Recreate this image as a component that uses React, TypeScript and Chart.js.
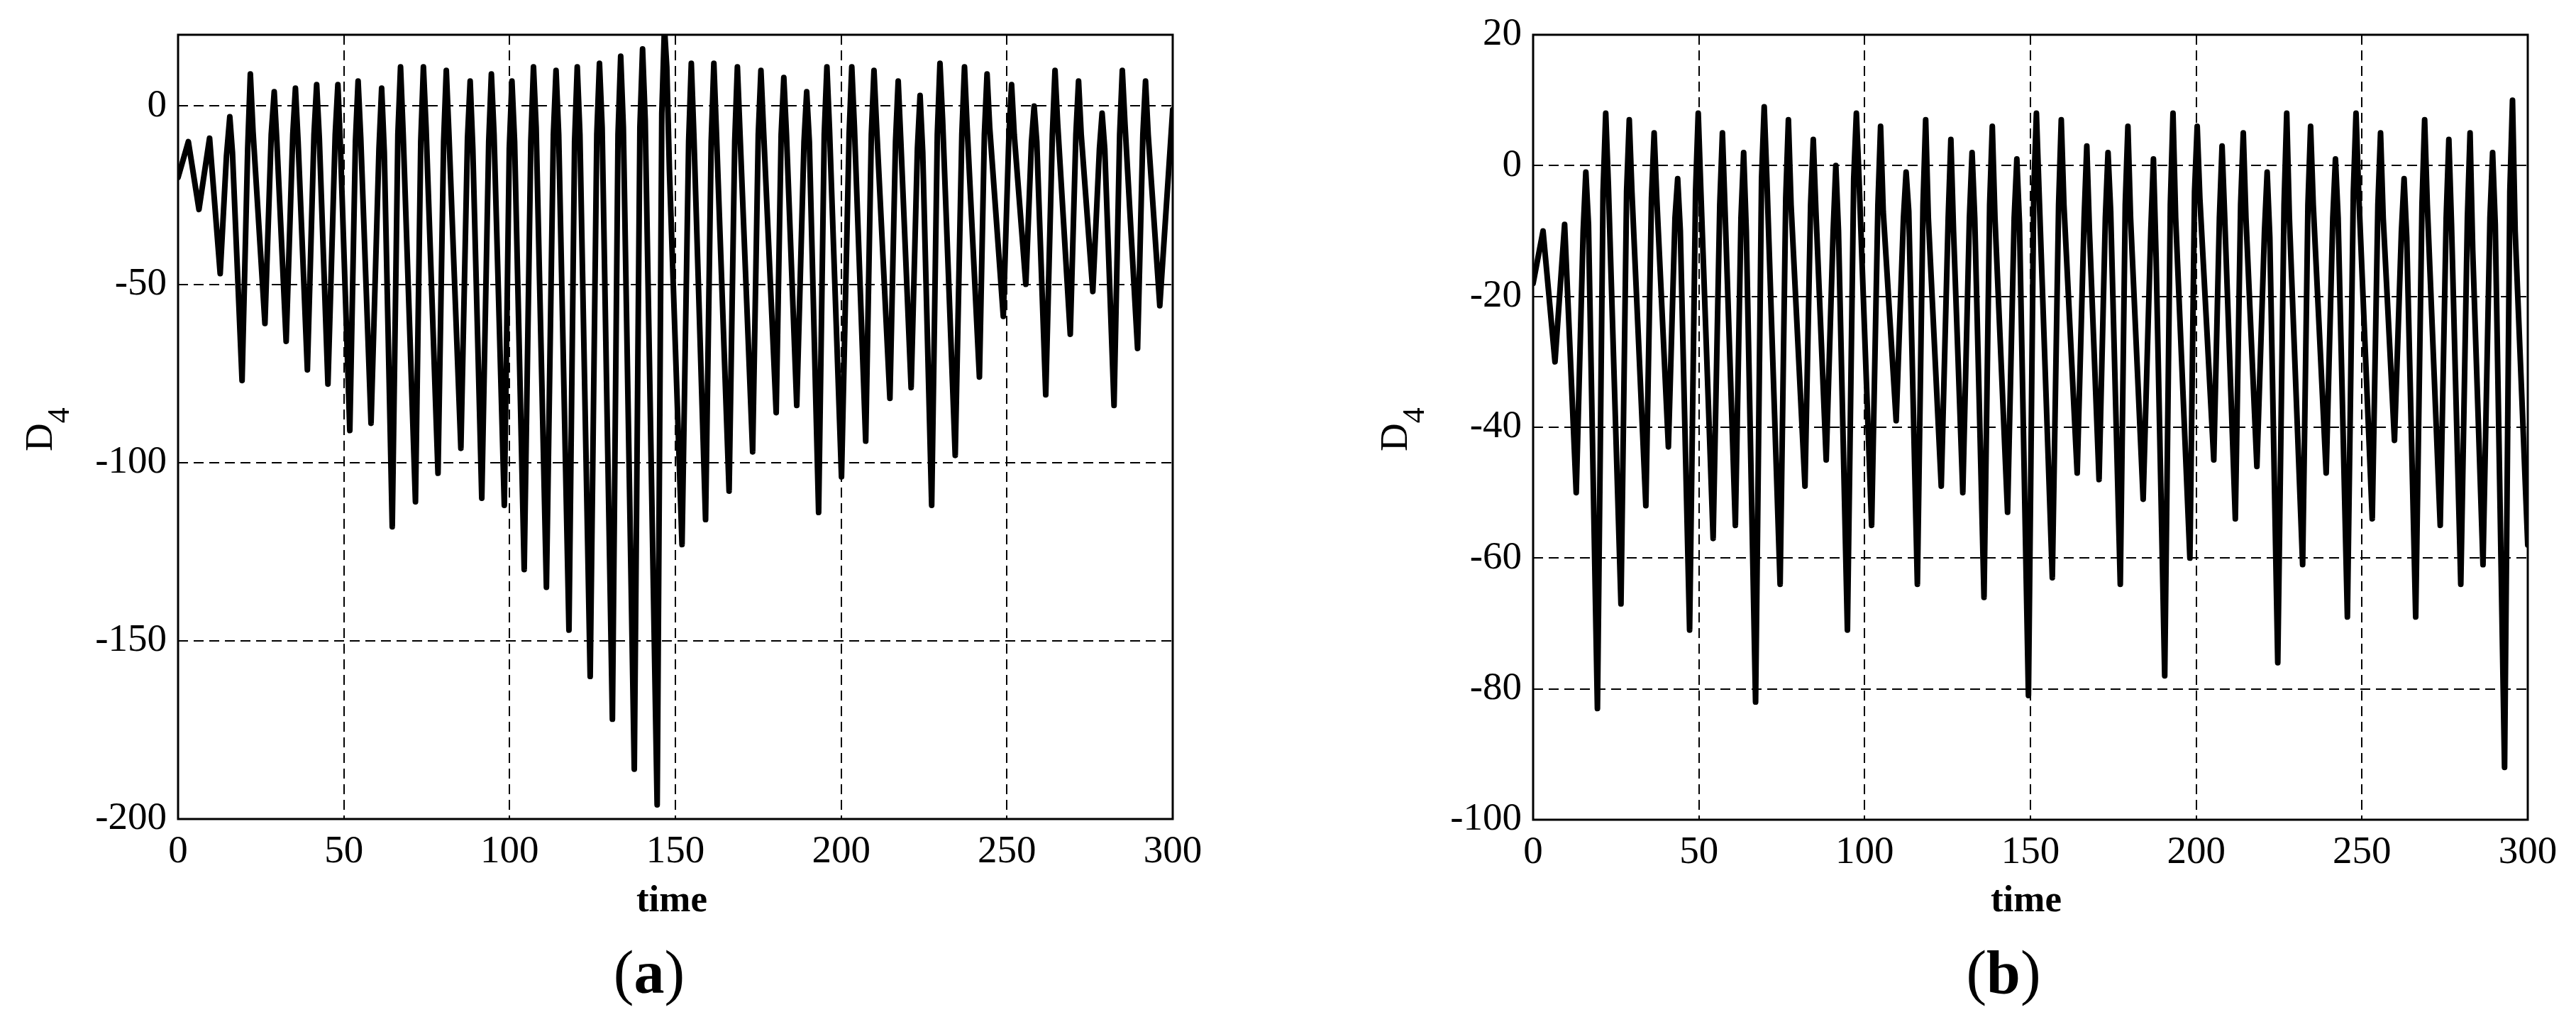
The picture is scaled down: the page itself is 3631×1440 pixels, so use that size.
import React, { useEffect, useRef } from "react";
import Chart from "chart.js/auto";

// ---------- data ----------
const timeTicks = [0, 50, 100, 150, 200, 250, 300];
const yTicksA = [-200, -150, -100, -50, 0];
const yTicksB = [-100, -80, -60, -40, -20, 0, 20];

// panel (a): vertices of the D4 trace; per cycle: trough, knee before peak, peak, shoulder after peak
const timeA = [
  0, 3.1, 6.3, 9.5, 12.7, 14.6, 15.6, 16.4,
  19.3, 21.0, 21.8, 22.6,
  26.2, 28.1, 29.0, 29.8,
  32.6, 34.6, 35.4, 36.2,
  39.0, 41.0, 41.8, 42.6,
  45.2, 47.4, 48.2, 49.0,
  51.8, 53.5, 54.3, 55.1,
  58.2, 60.6, 61.4, 62.2,
  64.6, 66.3, 67.1, 67.9,
  71.6, 73.2, 74.0, 74.8,
  78.4, 80.1, 80.9, 81.7,
  85.3, 87.3, 88.1, 88.9,
  91.6, 93.7, 94.5, 95.3,
  98.4, 99.9, 100.7, 101.5,
  104.4, 106.4, 107.2, 108.0,
  111.1, 113.2, 114.0, 114.8,
  117.9, 119.6, 120.4, 121.2,
  124.3, 126.3, 127.1, 127.9,
  131.0, 132.7, 133.5, 134.3,
  137.6, 139.3, 140.1, 140.9,
  144.5, 145.9, 146.7, 147.4, 148.2,
  152.0, 154.0, 154.8, 155.6,
  159.1, 160.8, 161.6, 162.4,
  166.2, 167.9, 168.7, 169.5,
  173.3, 175.0, 175.8, 176.6,
  180.4, 181.9, 182.7, 183.5,
  186.6, 188.8, 189.6, 190.4,
  193.2, 194.9, 195.7, 196.5,
  200.1, 202.4, 203.2, 204.0,
  207.4, 209.1, 209.9, 210.7,
  214.7, 216.4, 217.2, 218.0,
  221.1, 223.0, 223.8, 224.6,
  227.3, 229.0, 229.8, 230.6,
  234.4, 236.4, 237.2, 238.0,
  241.7, 243.2, 244.0, 244.8,
  248.9, 250.6, 251.4, 252.2,
  255.7, 257.4, 258.2, 259.0,
  261.7, 263.7, 264.5, 265.3,
  269.1, 270.8, 271.6, 272.4,
  275.9, 277.9, 278.7, 279.5,
  282.3, 284.0, 284.8, 285.6,
  289.4, 291.0, 291.8, 292.6,
  296.1, 300,
];
const valueA = [
  -20, -10, -29, -9, -47, -14, -3, -13,
  -77, -12, 9, -7,
  -61, -8, 4, -10,
  -66, -8, 5, -10,
  -74, -8, 6, -9,
  -78, -8, 6, -12,
  -91, -10, 7, -9,
  -89, -12, 5, -13,
  -118, -8, 11, -8,
  -111, -10, 11, -6,
  -103, -10, 10, -8,
  -96, -9, 7, -12,
  -110, -10, 9, -8,
  -112, -12, 7, -10,
  -130, -10, 11, -6,
  -135, -8, 10, -8,
  -147, -10, 11, -8,
  -160, -8, 12, -6,
  -172, -8, 14, -6,
  -186, -6, 16, -4,
  -196, -2, 22, 11, -18,
  -123, -10, 12, -9,
  -116, -10, 12, -8,
  -108, -10, 11, -8,
  -97, -8, 10, -7,
  -86, -8, 8, -8,
  -84, -10, 4, -10,
  -114, -8, 11, -7,
  -104, -8, 11, -6,
  -94, -8, 10, -6,
  -82, -10, 7, -10,
  -79, -12, 3, -13,
  -112, -8, 12, -4,
  -98, -8, 11, -6,
  -76, -8, 9, -6,
  -59, -8, 6, -8,
  -50, -10, 0, -10,
  -81, -8, 10, -5,
  -64, -8, 7, -8,
  -52, -12, -2, -12,
  -84, -8, 10, -5,
  -68, -8, 7, -8,
  -56, -1,
];

// panel (b)
const timeB = [
  0, 3.0, 6.6, 9.5,
  13.0, 15.1, 15.9, 16.7,
  19.4, 21.1, 21.9, 22.7,
  26.5, 28.2, 29.0, 29.8,
  34.0, 35.7, 36.5, 37.3,
  40.8, 42.8, 43.6, 44.4,
  47.2, 49.0, 49.8, 50.6,
  54.3, 56.3, 57.1, 57.9,
  61.0, 62.7, 63.5, 64.3,
  67.1, 68.9, 69.7, 70.5,
  74.5, 76.2, 77.0, 77.8,
  82.0, 83.7, 84.5, 85.3,
  88.4, 90.5, 91.3, 92.1,
  94.8, 96.7, 97.5, 98.3,
  102.1, 104.0, 104.8, 105.6,
  109.5, 111.7, 112.5, 113.3,
  115.9, 117.6, 118.4, 119.2,
  123.1, 125.2, 126.0, 126.8,
  129.6, 131.6, 132.4, 133.2,
  136.0, 137.7, 138.5, 139.3,
  143.1, 145.1, 145.9, 146.7,
  149.4, 151.0, 151.8, 152.6,
  156.6, 158.5, 159.3, 160.1,
  164.1, 166.2, 167.0, 167.8,
  170.7, 172.6, 173.4, 174.2,
  177.1, 178.6, 179.4, 180.2,
  184.0, 186.3, 187.1, 187.9,
  190.5, 192.2, 193.0, 193.8,
  198.1, 199.5, 200.3, 201.1,
  205.3, 207.0, 207.8, 208.6,
  211.8, 213.4, 214.2, 215.0,
  218.3, 220.6, 221.4, 222.2,
  224.6, 226.5, 227.3, 228.1,
  232.1, 233.7, 234.5, 235.3,
  239.2, 241.2, 242.0, 242.8,
  245.6, 247.4, 248.2, 249.0,
  253.1, 254.8, 255.6, 256.4,
  259.8, 261.9, 262.7, 263.5,
  266.2, 268.1, 268.9, 269.7,
  273.6, 275.4, 276.2, 277.0,
  279.8, 281.8, 282.6, 283.4,
  286.5, 288.6, 289.4, 290.2,
  293.0, 294.6, 295.4, 296.2,
  300,
];
const valueB = [
  -18, -10, -30, -9,
  -50, -10, -1, -9,
  -83, -4, 8, -3,
  -67, -4, 7, -4,
  -52, -5, 5, -5,
  -43, -8, -2, -10,
  -71, -4, 8, -4,
  -57, -6, 5, -7,
  -55, -8, 2, -10,
  -82, -2, 9, -2,
  -64, -5, 7, -6,
  -49, -6, 4, -7,
  -45, -10, 0, -10,
  -71, -2, 8, -2,
  -55, -6, 6, -7,
  -39, -8, -1, -7,
  -64, -6, 7, -8,
  -49, -8, 4, -10,
  -50, -8, 2, -8,
  -66, -6, 6, -8,
  -53, -8, 1, -9,
  -81, -4, 8, -4,
  -63, -6, 7, -6,
  -47, -8, 3, -10,
  -48, -8, 2, -7,
  -64, -6, 6, -8,
  -51, -10, 1, -14,
  -78, -6, 8, -8,
  -60, -4, 6, -5,
  -45, -8, 3, -8,
  -54, -6, 5, -8,
  -46, -10, -1, -11,
  -76, -6, 8, -8,
  -61, -6, 6, -6,
  -47, -8, 1, -8,
  -69, -4, 8, -4,
  -54, -6, 5, -8,
  -42, -10, -2, -11,
  -69, -6, 7, -6,
  -55, -8, 4, -9,
  -64, -8, 5, -13,
  -61, -8, 2, -9,
  -92, -4, 10, -10,
  -58,
];

// ---------- styling ----------
const SERIF = '"Liberation Serif", "Times New Roman", serif';
const PAGE_H = 1440;

type PanelProps = {
  left: number;
  width: number;
  plotLeft: number;
  plotRight: number;
  plotTop: number;
  plotBottom: number;
  times: number[];
  values: number[];
  yMin: number;
  yMax: number;
  yTicks: number[];
};

function Panel(p: PanelProps) {
  const ref = useRef<HTMLCanvasElement | null>(null);
  useEffect(() => {
    const frame = {
      id: "frame",
      afterDatasetsDraw(chart: any) {
        const { ctx, chartArea: a } = chart;
        ctx.save();
        ctx.strokeStyle = "#000";
        ctx.lineWidth = 3;
        ctx.setLineDash([]);
        ctx.strokeRect(a.left, a.top, a.right - a.left, a.bottom - a.top);
        ctx.restore();
      },
    };
    const tickFont = { family: SERIF, size: 55 };
    const n = Math.min(p.times.length, p.values.length);
    const pts = [];
    for (let i = 0; i < n; i++) pts.push({ x: p.times[i], y: p.values[i] });
    const chart = new Chart(ref.current as HTMLCanvasElement, {
      type: "line",
      data: {
        datasets: [
          {
            data: pts,
            borderColor: "#000",
            borderWidth: 8,
            pointRadius: 0,
            tension: 0,
            fill: false,
            borderJoinStyle: "round",
            borderCapStyle: "round",
          },
        ],
      },
      options: {
        animation: false,
        responsive: false,
        devicePixelRatio: 1,
        events: [],
        layout: {
          padding: {
            left: 0,
            top: p.plotTop,
            right: p.width - (p.plotRight - p.left),
            bottom: 0,
          },
        },
        plugins: { legend: { display: false }, tooltip: { enabled: false } },
        scales: {
          x: {
            type: "linear",
            min: 0,
            max: 300,
            afterBuildTicks: (s: any) => {
              s.ticks = timeTicks.map((v) => ({ value: v }));
            },
            afterFit: (s: any) => {
              s.height = PAGE_H - p.plotBottom;
            },
            grid: { color: "#000", lineWidth: 2, drawTicks: false },
            border: { display: false, dash: [14, 8] },
            ticks: {
              color: "#000",
              font: tickFont,
              padding: 14,
              maxRotation: 0,
              autoSkip: false,
              callback: (v: any) => String(v),
            },
          },
          y: {
            type: "linear",
            min: p.yMin,
            max: p.yMax,
            afterBuildTicks: (s: any) => {
              s.ticks = p.yTicks.map((v) => ({ value: v }));
            },
            afterFit: (s: any) => {
              s.width = p.plotLeft - p.left;
            },
            grid: { color: "#000", lineWidth: 2, drawTicks: false },
            border: { display: false, dash: [14, 8] },
            ticks: {
              color: "#000",
              font: tickFont,
              padding: 16,
              autoSkip: false,
              callback: (v: any) => String(v),
            },
          },
        },
      },
      plugins: [frame],
    } as any);
    return () => chart.destroy();
  }, []);
  return (
    <canvas
      ref={ref}
      width={p.width}
      height={PAGE_H}
      style={{ position: "absolute", left: p.left, top: 0, display: "block" }}
    />
  );
}

function YTitle({ left }: { left: number }) {
  return (
    <div
      style={{
        position: "absolute",
        left,
        top: 636,
        transformOrigin: "0 0",
        transform: "rotate(-90deg)",
        whiteSpace: "nowrap",
        fontFamily: SERIF,
        fontSize: 55,
        lineHeight: "55px",
        color: "#000",
      }}
    >
      D<span style={{ fontSize: 44, position: "relative", top: 24 }}>4</span>
    </div>
  );
}

function XTitle({ center }: { center: number }) {
  return (
    <div
      style={{
        position: "absolute",
        left: center - 200,
        width: 400,
        top: 1240,
        textAlign: "center",
        fontFamily: SERIF,
        fontWeight: "bold",
        fontSize: 53,
        lineHeight: "53px",
        color: "#000",
      }}
    >
      time
    </div>
  );
}

function PanelLabel({ center, letter }: { center: number; letter: string }) {
  return (
    <div
      style={{
        position: "absolute",
        left: center - 200,
        width: 400,
        top: 1327,
        textAlign: "center",
        fontFamily: SERIF,
        fontSize: 86,
        lineHeight: "86px",
        color: "#000",
      }}
    >
      (<b>{letter}</b>)
    </div>
  );
}

export default function App() {
  useEffect(() => {
    document.body.style.margin = "0";
  }, []);
  return (
    <div
      style={{
        position: "absolute",
        left: 0,
        top: 0,
        width: 3631,
        height: PAGE_H,
        background: "#fff",
        overflow: "hidden",
      }}
    >
      <Panel
        left={0}
        width={1815}
        plotLeft={251}
        plotRight={1653}
        plotTop={48}
        plotBottom={1154}
        times={timeA}
        values={valueA}
        yMin={-200}
        yMax={20}
        yTicks={yTicksA}
      />
      <Panel
        left={1815}
        width={1816}
        plotLeft={2161}
        plotRight={3563}
        plotTop={46}
        plotBottom={1155}
        times={timeB}
        values={valueB}
        yMin={-100}
        yMax={20}
        yTicks={yTicksB}
      />
      <YTitle left={27} />
      <YTitle left={1937} />
      <XTitle center={947} />
      <XTitle center={2856} />
      <PanelLabel center={915} letter="a" />
      <PanelLabel center={2824} letter="b" />
    </div>
  );
}
